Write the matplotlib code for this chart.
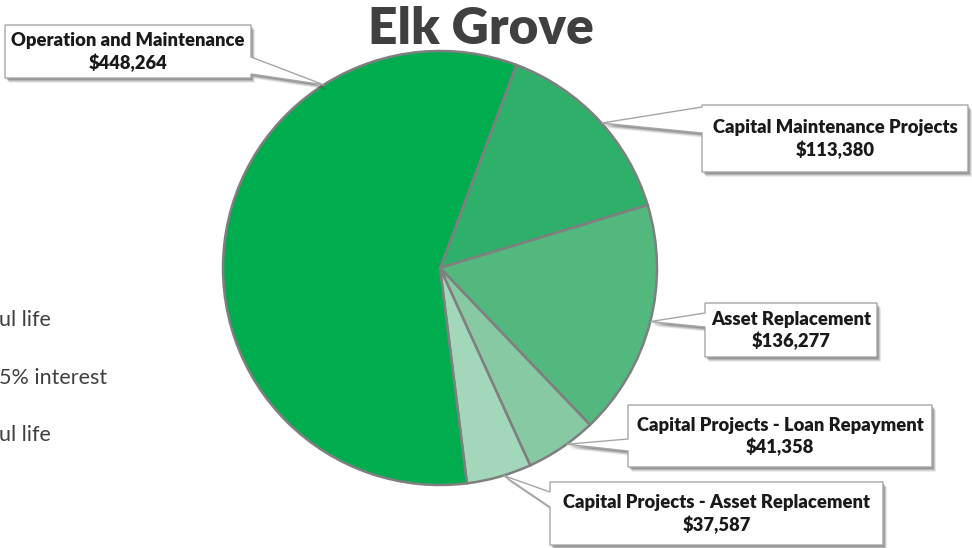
import matplotlib
matplotlib.use("Agg")
import matplotlib.pyplot as plt
from matplotlib.patches import Polygon
import numpy as np

# Annual cost breakdown, drawn clockwise starting from the top-right wedge
categories = [
    "Capital Maintenance Projects",
    "Asset Replacement",
    "Capital Projects - Loan Repayment",
    "Capital Projects - Asset Replacement",
    "Operation and Maintenance",
]
values = [113380, 136277, 41358, 37587, 448264]
colors = ["#2fb06a", "#52b87e", "#86c9a2", "#a3d7ba", "#00ad4e"]

W, H = 972, 548
CX, CY, R = 440, 268, 217  # pie centre and radius in pixels

fig = plt.figure(figsize=(W / 100, H / 100), dpi=100)
ax = fig.add_axes([0, 0, 1, 1])


def px(x, y):
    """Pixel position (origin top-left) to data coordinates."""
    return ((x - CX) / R, (CY - y) / R)


ax.pie(values, colors=colors, startangle=69.4, counterclock=False, radius=1,
       center=(0, 0), frame=True,
       wedgeprops=dict(edgecolor="#7f7f7f", linewidth=1.8))
ax.set_xlim(-CX / R, (W - CX) / R)
ax.set_ylim(-(H - CY) / R, CY / R)
ax.set_aspect("auto")
ax.axis("off")

label_font = dict(family=["Lato", "DejaVu Sans"], fontweight="heavy",
                  fontsize=13.2, color="#1a1a1a", ha="center", va="center")

# Callout boxes: (box left, top, right, bottom), pointer base on box edge, tip angle
callouts = [
    (4, (5, 25, 251, 78), ((251, 57), (251, 74)), 327.6),
    (0, (702, 105, 968, 172), ((702, 107), (702, 133)), 48.1),
    (1, (705, 303, 877, 357), ((705, 313), (705, 327)), 104.3),
    (2, (628, 405, 932, 467), ((628, 439), (628, 451)), 144.3),
    (3, (550, 482, 883, 545), ((550, 492), (550, 507)), 163.0),
]

for idx, (l, t, r, b), (p1, p2), ang in callouts:
    a = np.radians(ang)
    tip = (np.sin(a), np.cos(a))
    # shape outline: rectangle with a pointer wedge on one side
    if p1[0] == l:
        pts = [px(l, t), px(r, t), px(r, b), px(l, b), px(*p2), tip, px(*p1)]
    else:
        pts = [px(l, t), px(r, t), px(*p1), tip, px(*p2), px(r, b), px(l, b)]
    pts = np.array(pts)
    for k, alpha in enumerate([0.07, 0.10, 0.14, 0.18]):
        off = (5 - k) / R
        shadow = Polygon(pts + np.array([off * 0.8, -off]), closed=True,
                         facecolor="#000000", edgecolor="none", alpha=alpha,
                         zorder=3)
        ax.add_patch(shadow)
    ax.add_patch(Polygon(pts, closed=True, facecolor="white",
                         edgecolor="#a6a6a6", linewidth=1.0, zorder=4))
    xc = (l + r) / 2
    ym = (t + b) / 2
    ax.text(*px(xc, ym - 11), categories[idx], zorder=5, **label_font)
    ax.text(*px(xc, ym + 11), f"${values[idx]:,}", zorder=5, **label_font)

# Title
ax.text(*px(481, 29), "Elk Grove", family=["Lato", "DejaVu Sans"],
        fontweight="heavy", fontsize=37, color="#404040",
        ha="center", va="center", zorder=6)

# Notes at the left margin
note_font = dict(family=["Lato", "DejaVu Sans"], fontsize=15.5,
                 color="#404040", ha="left", va="center")
ax.text(*px(-1, 320), "ul life", **note_font)
ax.text(*px(-1, 378), "5% interest", **note_font)
ax.text(*px(-1, 435), "ul life", **note_font)

fig.savefig("out.png", dpi=100, facecolor="white")
